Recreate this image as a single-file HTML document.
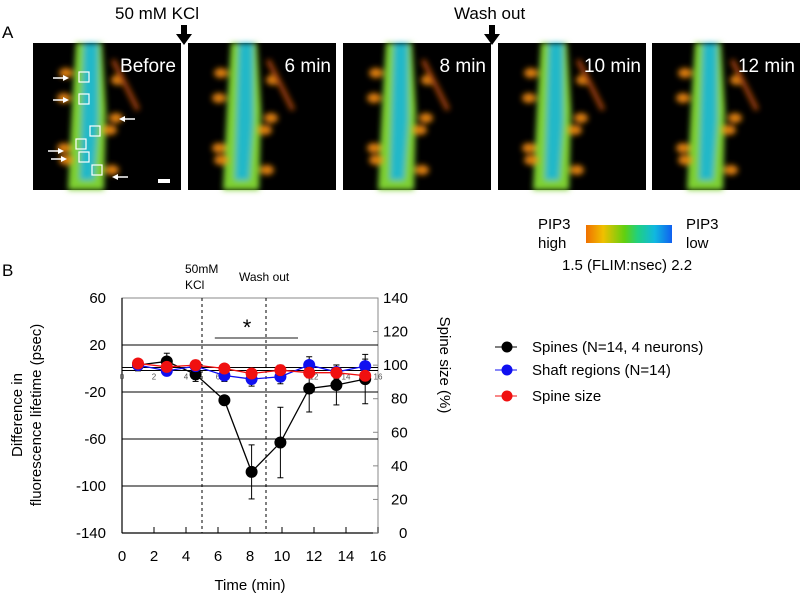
<!DOCTYPE html>
<html><head><meta charset="utf-8">
<style>
html,body{margin:0;padding:0;background:#fff;}
body{width:800px;height:596px;position:relative;overflow:hidden;font-family:"Liberation Sans",Arial,sans-serif;}
svg{position:absolute;left:0;top:0;}
</style></head>
<body>
<svg id="fig" width="800" height="596" viewBox="0 0 800 596">
<defs>
<filter id="blur" x="-20%" y="-20%" width="140%" height="140%"><feGaussianBlur stdDeviation="3"/></filter>
<linearGradient id="cbar" x1="0" x2="1" y1="0" y2="0">
<stop offset="0" stop-color="#f07000"/><stop offset="0.2" stop-color="#f0c000"/><stop offset="0.45" stop-color="#60d010"/><stop offset="0.6" stop-color="#20d080"/><stop offset="0.8" stop-color="#10b8e0"/><stop offset="1" stop-color="#1060f0"/>
</linearGradient>
</defs>
<text x="2" y="38" font-size="17">A</text>
<text x="2" y="276" font-size="17">B</text>
<text x="115" y="19" font-size="17">50 mM KCl</text>
<text x="454" y="19" font-size="17">Wash out</text>
<g id="arrows"></g>
<g id="panels"></g>
<g>
<rect x="586" y="225" width="86" height="18" fill="url(#cbar)"/>
<text x="538" y="229" font-size="15">PIP3</text><text x="538" y="248" font-size="15">high</text>
<text x="686" y="229" font-size="15">PIP3</text><text x="686" y="248" font-size="15">low</text>
<text x="562" y="270" font-size="15">1.5 (FLIM:nsec) 2.2</text>
</g>
<g id="chart"></g>
<g id="legend"></g>
</svg>
<script>
const NS="http://www.w3.org/2000/svg";
function mk(p,tag,at,txt){const e=document.createElementNS(NS,tag);for(const k in at)e.setAttribute(k,at[k]);if(txt!==undefined)e.textContent=txt;p.appendChild(e);return e;}
const panelX=[33,188,343,498,652];
const panelLabels=["Before","6 min","8 min","10 min","12 min"];
const P=document.getElementById('panels');
panelX.forEach((x,i)=>{
  const g=mk(P,'g',{});
  
  
  mk(g,'rect',{x:x,y:43,width:148,height:147,fill:'#000'});
  const b=mk(g,'g',{filter:'url(#blur)'});
  const cx=x+55;
  mk(b,'path',{d:`M${cx-12} 43 L${cx+14} 43 L${cx+18} 110 L${cx+16} 190 L${cx-20} 190 L${cx-16} 110 Z`,fill:'#7ed030'});
  mk(b,'path',{d:`M${cx-4} 43 L${cx+10} 43 L${cx+10} 120 L${cx+6} 180 L${cx-8} 180 L${cx-6} 110 Z`,fill:'#20b8c8'});
  [[-22,73],[-24,98],[28,118],[22,130],[-24,148],[-22,160],[24,170],[30,80]].forEach(s=>{
    mk(b,'ellipse',{cx:cx+s[0],cy:s[1],rx:7,ry:5,fill:'#e08010'});
  });
  mk(b,'path',{d:`M${cx+25} 60 L${cx+50} 110`,stroke:'#a04008',"stroke-width":5});
  const t=mk(g,'text',{x:x+143,y:72,"font-size":19,fill:'#fff',"text-anchor":'end'},panelLabels[i]);
  
  
});
const PB=mk(P,'g',{});
[[84,77],[84,99],[95,131],[81,144],[84,157],[97,170]].forEach(s=>mk(PB,'rect',{x:s[0]-5,y:s[1]-5,width:10,height:10,fill:'none',stroke:'#fff','stroke-width':1.2}));
[[[53,78],[66,78]],[[53,100],[66,100]],[[135,119],[122,119]],[[48,151],[61,151]],[[51,159],[64,159]],[[128,177],[115,177]]].forEach(a=>{
  mk(PB,'line',{x1:a[0][0],y1:a[0][1],x2:a[1][0],y2:a[1][1],stroke:'#fff','stroke-width':1.5});
  const d=a[1][0]>a[0][0]?1:-1;
  mk(PB,'path',{d:`M${a[1][0]+d*3} ${a[1][1]} L${a[1][0]-d*3} ${a[1][1]-3} L${a[1][0]-d*3} ${a[1][1]+3} Z`,fill:'#fff'});
});
mk(PB,'rect',{x:158,y:179,width:12,height:4,fill:'#fff'});
const A=document.getElementById('arrows');
[184,492].forEach(x=>{
  const a=mk(A,'path',{d:`M${x-3} 25 L${x+3} 25 L${x+3} 34 L${x+8} 34 L${x} 45 L${x-8} 34 L${x-3} 34 Z`,fill:'#000'});
  
  
});

const times=[1,2.8,4.6,6.4,8.1,9.9,11.7,13.4,15.2];
const spines=[3,6,-5,-27,-88,-63,-17,-14,-9];
const spinesErr=[5,7,6,4,23,30,20,17,21];
const shaft=[3,-2,2,-6,-9,-7,3,-3,2];
const shaftErr=[4,4,5,5,6,6,7,6,6];
const sizeVals=[101,99,100,98,95,97,95.5,95.5,93.7];
const sizeErr=[2,2,2,2,2,3,3,3,3];
const leftTicks=[60,20,-20,-60,-100,-140];
const rightTicks=[140,120,100,80,60,40,20,0];
const xTicks=[0,2,4,6,8,10,12,14,16];
const gridVals=[20,-20,-60,-100];

const X0=122,X1=378,Y0=298,Y1=533;
const xs=t=>X0+(t/16)*(X1-X0);
const yl=v=>Y0+(60-v)/200*(Y1-Y0);
const yr=v=>Y1-v/140*(Y1-Y0);
const C=document.getElementById('chart');


mk(C,'rect',{x:X0,y:Y0,width:X1-X0,height:Y1-Y0,fill:'none',stroke:'#888','stroke-width':1});
gridVals.forEach(v=>{const l=mk(C,'line',{x1:X0,x2:X1,y1:yl(v),y2:yl(v),stroke:'#000','stroke-width':1});

});
mk(C,'line',{x1:X0,x2:X1,y1:yl(0)-1,y2:yl(0)-1,stroke:'#000','stroke-width':1});
mk(C,'line',{x1:X0,x2:X1,y1:yl(0)+2,y2:yl(0)+2,stroke:'#000','stroke-width':1});
mk(C,'line',{x1:X0,x2:X0,y1:Y0,y2:Y1,stroke:'#000','stroke-width':1.2});
mk(C,'line',{x1:X0,x2:X1,y1:Y1,y2:Y1,stroke:'#000','stroke-width':1.2});
xTicks.forEach(t=>{
  mk(C,'line',{x1:xs(t),x2:xs(t),y1:Y1,y2:Y1-6,stroke:'#000'});
  const tx=mk(C,'text',{x:xs(t),y:561,'font-size':15,'text-anchor':'middle'},String(t));
  
  
  mk(C,'text',{x:xs(t),y:yl(0)+11,'font-size':8,'text-anchor':'middle',fill:'#555'},String(t));
});
leftTicks.forEach(v=>{const t=mk(C,'text',{x:106,y:yl(v)+5,'font-size':15,'text-anchor':'end'},String(v));

});
rightTicks.forEach(v=>{mk(C,'line',{x1:X1,x2:X1-5,y1:yr(v),y2:yr(v),stroke:'#888'});
const t=mk(C,'text',{x:v>=100?383:(v>0?391:399),y:yr(v)+5,'font-size':15},String(v));

});
[5,9].forEach(t=>mk(C,'line',{x1:xs(t),x2:xs(t),y1:Y0,y2:Y1,stroke:'#000','stroke-dasharray':'3,3'}));
mk(C,'text',{x:185,y:273,'font-size':12},'50mM');
mk(C,'text',{x:185,y:289,'font-size':12},'KCl');
mk(C,'text',{x:239,y:281,'font-size':12},'Wash out');
mk(C,'line',{x1:xs(5.8),x2:xs(11),y1:338,y2:338,stroke:'#666','stroke-width':1.5});
mk(C,'text',{x:247,y:335,'font-size':22,'text-anchor':'middle'},'*');
const yt=mk(C,'text',{x:0,y:0,'font-size':15,'text-anchor':'middle',transform:'translate(30,415) rotate(-90)'});
mk(yt,'tspan',{x:0,dy:-8},'Difference in');mk(yt,'tspan',{x:0,dy:19},'fluorescence lifetime (psec)');


const rt=mk(C,'text',{x:0,y:0,'font-size':15,'text-anchor':'middle',transform:'translate(440,365) rotate(90)'},'Spine size (%)');


const xt=mk(C,'text',{x:xs(8),y:590,'font-size':15,'text-anchor':'middle'},'Time (min)');



function series(name,vals,errs,yf,color){
  const g=mk(C,'g',{});
  
  
  vals.forEach((v,i)=>{const x=xs(times[i]);
    mk(g,'line',{x1:x,x2:x,y1:yf(v+errs[i]),y2:yf(v-errs[i]),stroke:'#000'});
    mk(g,'line',{x1:x-3,x2:x+3,y1:yf(v+errs[i]),y2:yf(v+errs[i]),stroke:'#000'});
    mk(g,'line',{x1:x-3,x2:x+3,y1:yf(v-errs[i]),y2:yf(v-errs[i]),stroke:'#000'});});
  mk(g,'polyline',{points:vals.map((v,i)=>xs(times[i])+','+yf(v)).join(' '),fill:'none',stroke:color,'stroke-width':1.3});
  vals.forEach((v,i)=>{const c=mk(g,'circle',{cx:xs(times[i]),cy:yf(v),r:6,fill:color});
    
    });
}
series('spines-series',spines,spinesErr,yl,'#000');
series('shaft-series',shaft,shaftErr,yl,'#1010f0');
series('spine-size-series',sizeVals,sizeErr,yr,'#f01010');

const L=document.getElementById('legend');


[['Spines (N=14, 4 neurons)','#000',347],['Shaft regions (N=14)','#1010f0',370],['Spine size','#f01010',396]].forEach(e=>{
  const g=mk(L,'g',{});
  
  
  mk(g,'line',{x1:495,x2:517,y1:e[2],y2:e[2],stroke:e[1]});
  mk(g,'circle',{cx:507,cy:e[2],r:5.5,fill:e[1]});
  mk(g,'text',{x:532,y:e[2]+5,'font-size':15},e[0]);
});
</script>
</body></html>
